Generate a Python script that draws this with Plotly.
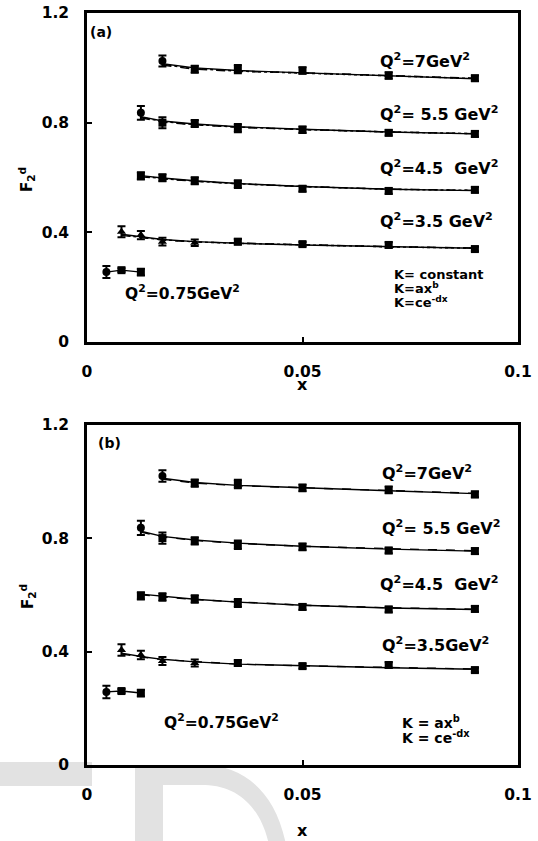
import plotly.graph_objects as go

# ---------------- data ----------------
x7 = [0.0175, 0.025, 0.035, 0.05, 0.07, 0.09]
x55 = [0.0125, 0.0175, 0.025, 0.035, 0.05, 0.07, 0.09]
x45 = [0.0125, 0.0175, 0.025, 0.035, 0.05, 0.07, 0.09]
x35 = [0.008, 0.0125, 0.0175, 0.025, 0.035, 0.05, 0.07, 0.09]
x075 = [0.0045, 0.008, 0.0125]

# panel (a) measured F2d
a7 = [1.025, 0.995, 0.995, 0.99, 0.972, 0.962]
a55 = [0.836, 0.800, 0.797, 0.780, 0.774, 0.763, 0.759]
a45 = [0.606, 0.599, 0.588, 0.576, 0.559, 0.551, 0.555]
a35 = [0.402, 0.390, 0.366, 0.362, 0.366, 0.357, 0.354, 0.339]
a075 = [0.255, 0.262, 0.255]

# panel (b) measured F2d
b7 = [1.020, 0.995, 0.992, 0.978, 0.971, 0.955]
b55 = [0.837, 0.801, 0.791, 0.777, 0.770, 0.757, 0.755]
b45 = [0.597, 0.593, 0.586, 0.572, 0.558, 0.549, 0.551]
b35 = [0.406, 0.388, 0.367, 0.360, 0.360, 0.349, 0.353, 0.335]
b075 = [0.258, 0.261, 0.254]

# errors
e7 = [0.02, 0.013, 0.015, 0.012, 0.012, 0.01]
e55 = [0.025, 0.02, 0.013, 0.015, 0.012, 0.01, 0.01]
e45 = [0.013, 0.013, 0.013, 0.014, 0.01, 0.01, 0.01]
e35 = [0.02, 0.015, 0.014, 0.012, 0.01, 0.008, 0.01, 0.008]
e075 = [0.022, 0.007, 0.012]

# marker symbols
s7 = ["circle", "square", "square", "square", "square", "square"]
s55 = ["circle", "square", "square", "square", "square", "square", "square"]
s45 = ["square"] * 7
s35 = ["triangle-up", "triangle-up", "triangle-up", "triangle-up", "square", "square", "square", "square"]
s075 = ["circle", "square", "square"]

# panel (a) fits: K = constant (solid), K = ax^b (dashed), K = ce^-dx (dotted)
fa7_const = [1.015, 1.000, 0.990, 0.982, 0.970, 0.960]
fa7_pow = [1.010, 0.995, 0.987, 0.982, 0.972, 0.962]
fa7_exp = [1.012, 0.997, 0.988, 0.981, 0.971, 0.961]
fa55_const = [0.822, 0.806, 0.795, 0.785, 0.776, 0.766, 0.759]
fa55_pow = [0.818, 0.802, 0.792, 0.783, 0.775, 0.766, 0.760]
fa55_exp = [0.820, 0.804, 0.793, 0.784, 0.775, 0.766, 0.760]
fa45_const = [0.607, 0.598, 0.588, 0.578, 0.567, 0.557, 0.552]
fa45_pow = [0.603, 0.595, 0.586, 0.577, 0.567, 0.558, 0.553]
fa45_exp = [0.605, 0.596, 0.587, 0.577, 0.567, 0.557, 0.553]
fa35_const = [0.393, 0.383, 0.374, 0.366, 0.360, 0.354, 0.347, 0.342]
fa35_pow = [0.389, 0.380, 0.372, 0.365, 0.360, 0.355, 0.348, 0.343]
fa35_exp = [0.391, 0.381, 0.373, 0.365, 0.360, 0.354, 0.347, 0.342]

# panel (b) fits: K = ax^b (solid), K = ce^-dx (dashed)
fb7_pow = [1.012, 0.997, 0.987, 0.978, 0.968, 0.958]
fb7_exp = [1.009, 0.995, 0.986, 0.978, 0.969, 0.959]
fb55_pow = [0.825, 0.807, 0.794, 0.783, 0.772, 0.762, 0.755]
fb55_exp = [0.822, 0.805, 0.793, 0.782, 0.772, 0.763, 0.756]
fb45_pow = [0.603, 0.595, 0.585, 0.575, 0.564, 0.554, 0.549]
fb45_exp = [0.601, 0.593, 0.584, 0.575, 0.564, 0.555, 0.550]
fb35_pow = [0.395, 0.383, 0.373, 0.364, 0.356, 0.350, 0.343, 0.338]
fb35_exp = [0.392, 0.381, 0.372, 0.364, 0.356, 0.350, 0.344, 0.339]

x_ticks = [0, 0.05, 0.1]
x_ticklabels = ["0", "0.05", "0.1"]
y_ticks = [0, 0.4, 0.8, 1.2]
y_ticklabels = ["0", "0.4", "0.8", "1.2"]

FONT = "DejaVu Sans"
BLACK = "#000000"

fig = go.Figure()


def add_points(xs, ys, errs, syms, xa, ya):
    fig.add_trace(go.Scatter(
        x=xs, y=ys, mode="markers", xaxis=xa, yaxis=ya, showlegend=False,
        marker=dict(color=BLACK, size=8, symbol=syms),
        error_y=dict(type="data", array=errs, visible=True, color=BLACK,
                     thickness=2, width=4)))


def add_line(xs, ys, dash, xa, ya, w=1.4):
    fig.add_trace(go.Scatter(
        x=xs, y=ys, mode="lines", xaxis=xa, yaxis=ya, showlegend=False,
        line=dict(color=BLACK, width=w, dash=dash)))


# panel (a)
for xs, c, p, e in [(x7, fa7_const, fa7_pow, fa7_exp), (x55, fa55_const, fa55_pow, fa55_exp),
                    (x45, fa45_const, fa45_pow, fa45_exp), (x35, fa35_const, fa35_pow, fa35_exp)]:
    add_line(xs, c, "solid", "x", "y")
    add_line(xs, p, "dash", "x", "y")
    add_line(xs, e, "dot", "x", "y")
add_line(x075, a075, "solid", "x", "y")
for xs, ys, es, ss in [(x7, a7, e7, s7), (x55, a55, e55, s55), (x45, a45, e45, s45),
                       (x35, a35, e35, s35), (x075, a075, e075, s075)]:
    add_points(xs, ys, es, ss, "x", "y")

# panel (b)
for xs, p, e in [(x7, fb7_pow, fb7_exp), (x55, fb55_pow, fb55_exp),
                 (x45, fb45_pow, fb45_exp), (x35, fb35_pow, fb35_exp)]:
    add_line(xs, p, "solid", "x2", "y2")
    add_line(xs, e, "dash", "x2", "y2")
add_line(x075, b075, "solid", "x2", "y2")
for xs, ys, es, ss in [(x7, b7, e7, s7), (x55, b55, e55, s55), (x45, b45, e45, s45),
                       (x35, b35, e35, s35), (x075, b075, e075, s075)]:
    add_points(xs, ys, es, ss, "x2", "y2")

axis_common = dict(showline=True, linecolor=BLACK, linewidth=2.5, mirror=True,
                   showgrid=False, zeroline=False, ticks="inside", ticklen=5,
                   tickwidth=2, tickcolor=BLACK, automargin=False,
                   ticklabeloverflow="allow",
                   tickfont=dict(family=FONT, size=15.5, color=BLACK, weight="bold"))

fig.update_layout(
    width=538, height=841,
    margin=dict(l=87, r=20, t=13, b=76),
    paper_bgcolor="white", plot_bgcolor="rgba(0,0,0,0)",
    xaxis=dict(axis_common, domain=[0, 1], anchor="y", range=[0, 0.1],
               tickvals=x_ticks, ticktext=x_ticklabels, ticklabelstandoff=14),
    yaxis=dict(axis_common, domain=[0.5625, 1], anchor="x", range=[0, 1.2],
               tickvals=y_ticks, ticktext=y_ticklabels, ticklabelstandoff=12),
    xaxis2=dict(axis_common, domain=[0, 1], anchor="y2", range=[0, 0.1],
                tickvals=x_ticks, ticktext=x_ticklabels, ticklabelstandoff=14),
    yaxis2=dict(axis_common, domain=[0, 0.4521], anchor="x2", range=[0, 1.2],
                tickvals=y_ticks, ticktext=y_ticklabels, ticklabelstandoff=12),
)


def ann(text, x, y, xr, yr, size=16, xanchor="left", angle=0):
    fig.add_annotation(text=text, x=x, y=y, xref=xr, yref=yr, showarrow=False,
                       xanchor=xanchor, yanchor="middle", textangle=angle,
                       font=dict(family=FONT, size=size, color=BLACK, weight="bold"))


NB = "\u00a0"
# panel (a) labels
ann("(a)", 0.0002, 1.13, "x", "y", size=14)
ann("Q<sup>2</sup>=7GeV<sup>2</sup>", 0.0675, 1.028, "x", "y")
ann("Q<sup>2</sup>= 5.5 GeV<sup>2</sup>", 0.0675, 0.835, "x", "y")
ann("Q<sup>2</sup>=4.5 " + NB + "GeV<sup>2</sup>", 0.0675, 0.635, "x", "y")
ann("Q<sup>2</sup>=3.5 GeV<sup>2</sup>", 0.0675, 0.445, "x", "y")
ann("K= constant", 0.0708, 0.246, "x", "y", size=13)
ann("K=ax<sup>b</sup>", 0.0708, 0.197, "x", "y", size=13)
ann("K=ce<sup>-dx</sup>", 0.0708, 0.146, "x", "y", size=13)
ann("Q<sup>2</sup>=0.75GeV<sup>2</sup>", 0.0084, 0.179, "x", "y", size=15.5)

# panel (b) labels
ann("(b)", 0.0021, 1.137, "x2", "y2", size=14)
ann("Q<sup>2</sup>=7GeV<sup>2</sup>", 0.068, 1.034, "x2", "y2")
ann("Q<sup>2</sup>= 5.5 GeV<sup>2</sup>", 0.068, 0.840, "x2", "y2")
ann("Q<sup>2</sup>=4.5 " + NB + "GeV<sup>2</sup>", 0.0675, 0.642, "x2", "y2")
ann("Q<sup>2</sup>=3.5GeV<sup>2</sup>", 0.068, 0.424, "x2", "y2")
ann("K = ax<sup>b</sup>", 0.0726, 0.152, "x2", "y2", size=14)
ann("K = ce<sup>-dx</sup>", 0.0726, 0.099, "x2", "y2", size=14)
ann("Q<sup>2</sup>=0.75GeV<sup>2</sup>", 0.0174, 0.152, "x2", "y2", size=15.5)

# axis titles (paper coordinates; plot area spans px x 87..518, y 13..765)
ann("x", 0.05, (765 - 384) / 752, "x", "paper", xanchor="center")
ann("x", 0.05, (765 - 830) / 752, "x2", "paper", xanchor="center")
ann("F<sub>2</sub><sup>d</sup>", (27 - 87) / 431, (765 - 180) / 752, "paper", "paper",
    size=15, xanchor="center", angle=-90)
ann("F<sub>2</sub><sup>d</sup>", (27 - 87) / 431, (765 - 597) / 752, "paper", "paper",
    size=15, xanchor="center", angle=-90)


# light grey watermark at the bottom
def P(x, y):
    return "%.4f,%.4f" % ((x - 87) / 431, (765 - y) / 752)


WM = "#e2e2e2"
fig.add_shape(type="rect", xref="paper", yref="paper", layer="below",
              x0=(0 - 87) / 431, x1=(92 - 87) / 431,
              y0=(765 - 786) / 752, y1=(765 - 762) / 752,
              fillcolor=WM, line=dict(width=0))
fig.add_shape(type="rect", xref="paper", yref="paper", layer="below",
              x0=(135 - 87) / 431, x1=(163 - 87) / 431,
              y0=(765 - 850) / 752, y1=(765 - 765) / 752,
              fillcolor=WM, line=dict(width=0))
bowl = ("M" + P(163, 765) + " L" + P(205, 765) + " C" + P(242, 766) + " " + P(277, 790) + " " + P(287, 850)
        + " L" + P(270, 850) + " C" + P(263, 810) + " " + P(240, 786) + " " + P(205, 785)
        + " L" + P(163, 785) + " Z")
fig.add_shape(type="path", xref="paper", yref="paper", layer="below", path=bowl,
              fillcolor=WM, line=dict(width=0))

# remove the default 8 px page margin so the figure fills the window exactly
fig.write_html("out.html", config={"displayModeBar": False},
               post_script="document.body.style.margin='0px';")
